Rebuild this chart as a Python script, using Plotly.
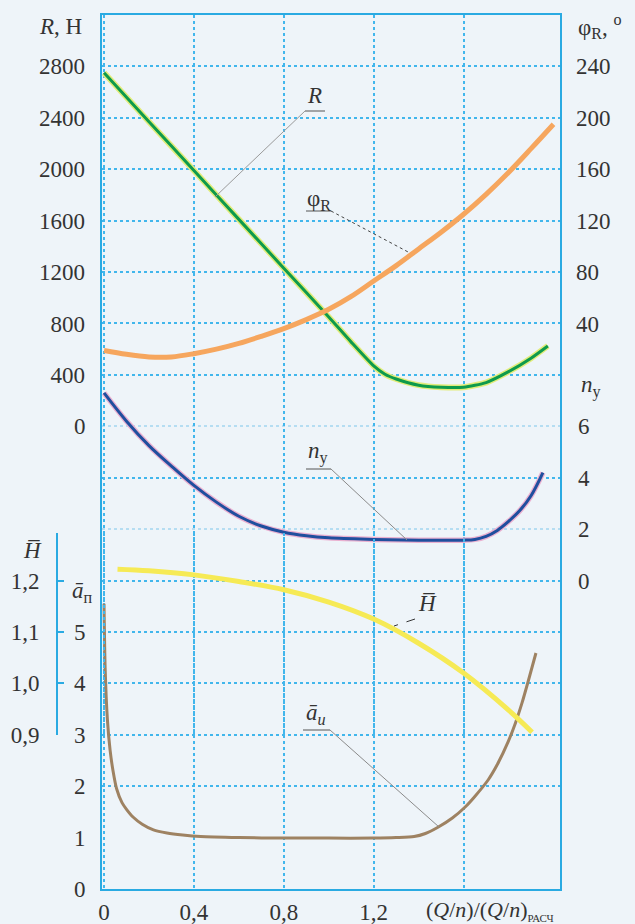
import plotly.graph_objects as go

# ---------------- data ----------------
x_R = [0, 0.2, 0.4, 0.6, 0.8, 1.0, 1.1, 1.2, 1.25, 1.3, 1.4, 1.5, 1.6, 1.7, 1.8, 1.9, 1.975]
R_vals = [2750, 2370, 1990, 1610, 1230, 850, 655, 470, 405, 368, 320, 304, 304, 340, 425, 530, 625]

x_phi = [0, 0.1, 0.2, 0.3, 0.4, 0.5, 0.6, 0.7, 0.8, 0.9, 1.0, 1.1, 1.2, 1.3, 1.4, 1.5, 1.6, 1.7, 1.8, 1.9, 2.0]
phi_vals = [19, 16, 14, 14, 16.5, 20, 24.5, 30, 36, 43, 51, 61, 73, 85, 98, 111, 125, 140.5, 157.5, 176, 195]

x_ny = [0, 0.1, 0.2, 0.3, 0.4, 0.5, 0.6, 0.7, 0.8, 0.9, 1.0, 1.2, 1.4, 1.6, 1.65, 1.7, 1.75, 1.8, 1.85, 1.9, 1.953]
ny_vals = [7.3, 6.2, 5.25, 4.45, 3.7, 3.05, 2.5, 2.12, 1.88, 1.74, 1.66, 1.6, 1.57, 1.57, 1.6, 1.72, 1.95, 2.3, 2.72, 3.3, 4.2]

x_H = [0.06, 0.2, 0.4, 0.6, 0.8, 1.0, 1.2, 1.4, 1.6, 1.8, 1.905]
H_vals = [1.222, 1.219, 1.211, 1.198, 1.182, 1.158, 1.125, 1.078, 1.020, 0.948, 0.905]

x_a = [0, 0.005, 0.015, 0.027, 0.04, 0.056, 0.08, 0.1, 0.129, 0.17, 0.22, 0.28, 0.35, 0.43, 0.6, 0.8,
       1.0, 1.2, 1.3, 1.38, 1.43, 1.486, 1.55, 1.606, 1.65, 1.709, 1.75, 1.798, 1.83, 1.86, 1.89, 1.922]
a_vals = [5.55, 4.3, 3.3, 2.7, 2.3, 1.95, 1.68, 1.55, 1.4, 1.26, 1.15, 1.09, 1.05, 1.02, 1.0, 0.99,
          0.99, 0.99, 1.0, 1.02, 1.08, 1.2, 1.38, 1.59, 1.8, 2.12, 2.42, 2.86, 3.22, 3.62, 4.08, 4.59]

x_tickvals = [0, 0.4, 0.8, 1.2, 1.6]
x_ticktext = ["0", "0,4", "0,8", "1,2", ""]
# R axis: labelled ticks 400..2800; unlabelled ones continue the grid below (shared grid of the panel)
R_tickvals = [-2800, -2400, -2000, -1600, -1200, -400, 400, 800, 1200, 1600, 2000, 2400, 2800]
R_ticktext = ["", "", "", "", "", "", "400", "800", "1200", "1600", "2000", "2400", "2800"]
R_faint_grid = [-800, 0]
phi_ticks = [40, 80, 120, 160, 200, 240]
ny_ticks = [0, 2, 4, 6]
a_tickvals = [0, 1, 2, 3, 4, 5, 9]          # the value 9 on this scale is where R = 0
a_ticktext = ["0", "1", "2", "3", "4", "5", "0"]
H_ticks = [0.9, 1.0, 1.1, 1.2, 1.292]
H_ticktext = ["0,9", "1,0", "1,1", "1,2", ""]

# ---------------- style ----------------
BG = "#EEF4F9"
FRAME = "#2AAAE2"
GRID = "#41B6EC"
GRID_FAINT = "#B5DDF2"
TXT = "#333333"
FONT = "Liberation Serif"
FS = 23

W, Hh = 635, 924
ML, MR, MT, MB = 20, 75, 15, 35
PLOT_W = W - ML - MR
PLOT_H = Hh - MT - MB
FRAME_L = 102
XR = [-0.009, 2.029]
NG = 17  # grid units along y


def dx(px):
    return XR[0] + (px - FRAME_L) / (W - MR - FRAME_L) * (XR[1] - XR[0])


def dg(py):
    return (Hh - MB - py) / (PLOT_H / NG)


def paper_x(px):
    return (px - ML) / PLOT_W


def paper_y(py):
    return (Hh - MB - py) / PLOT_H


fig = go.Figure()

fig.add_trace(go.Scatter(x=x_R, y=R_vals, yaxis="y2", mode="lines",
                         line=dict(color="#E2EC7A", width=6, shape="spline", smoothing=0.6),
                         hoverinfo="skip", showlegend=False))
fig.add_trace(go.Scatter(x=x_R, y=R_vals, yaxis="y2", mode="lines",
                         line=dict(color="#0E9A4C", width=3, shape="spline", smoothing=0.6),
                         showlegend=False))
fig.add_trace(go.Scatter(x=x_phi, y=phi_vals, yaxis="y4", mode="lines",
                         line=dict(color="#F6A65E", width=5, shape="spline"),
                         showlegend=False))
fig.add_trace(go.Scatter(x=x_ny, y=ny_vals, yaxis="y5", mode="lines",
                         line=dict(color="#EAB0D0", width=5.5, shape="spline"),
                         hoverinfo="skip", showlegend=False))
fig.add_trace(go.Scatter(x=x_ny, y=ny_vals, yaxis="y5", mode="lines",
                         line=dict(color="#1F4F9E", width=3, shape="spline"),
                         showlegend=False))
fig.add_trace(go.Scatter(x=x_H, y=H_vals, yaxis="y6", mode="lines",
                         line=dict(color="#F6EA55", width=5, shape="spline"),
                         showlegend=False))
fig.add_trace(go.Scatter(x=x_a, y=a_vals, yaxis="y", mode="lines",
                         line=dict(color="#9E8262", width=3, shape="spline", smoothing=0.7),
                         showlegend=False))

common_y = dict(zeroline=False, ticks="", automargin=False,
                tickfont=dict(family=FONT, size=FS, color=TXT))

fig.update_layout(
    width=W, height=Hh,
    margin=dict(l=ML, r=MR, t=MT, b=MB, autoexpand=False),
    paper_bgcolor=BG, plot_bgcolor="rgba(0,0,0,0)",
    showlegend=False,
    xaxis=dict(domain=[(FRAME_L - ML) / PLOT_W, 1], range=XR, automargin=False,
               tickvals=x_tickvals, ticktext=x_ticktext,
               tickfont=dict(family=FONT, size=FS, color=TXT),
               showgrid=True, gridcolor=GRID, griddash="3px,3px", gridwidth=1.5,
               zeroline=False, showline=True, mirror=True, linecolor=FRAME, linewidth=2,
               ticks="", ticklabelstandoff=1),
    yaxis=dict(range=[0, NG], tickvals=a_tickvals, ticktext=a_ticktext, showline=True,
               mirror=True, showgrid=False, linecolor=FRAME, linewidth=2,
               ticklabelstandoff=10, **common_y),
    yaxis2=dict(range=[-9 * 400, (NG - 9) * 400], overlaying="y", side="left", anchor="x",
                tickvals=R_tickvals, ticktext=R_ticktext, ticklabelstandoff=16,
                showgrid=True, gridcolor=GRID, griddash="3px,3px", gridwidth=1.5,
                minor=dict(tickvals=R_faint_grid, showgrid=True, gridcolor=GRID_FAINT,
                           griddash="3px,3px", gridwidth=1.5, ticks=""),
                **common_y),
    yaxis4=dict(range=[-10 * 40, (NG - 10) * 40], overlaying="y", side="right", anchor="x",
                tickvals=phi_ticks, ticklabelstandoff=15, showgrid=False, **common_y),
    yaxis5=dict(range=[-6 * 2, (NG - 6) * 2], overlaying="y", side="right", anchor="x",
                tickvals=ny_ticks, ticklabelstandoff=17, showgrid=False, **common_y),
    yaxis6=dict(domain=[3 / NG, 6.92 / NG], range=[0.9, 1.292], anchor="free",
                position=(57 - ML) / PLOT_W, side="left", showline=True, linecolor=FRAME,
                linewidth=2, ticks="inside", ticklen=6, tickwidth=2, tickcolor=FRAME,
                tickvals=H_ticks, ticktext=H_ticktext, showgrid=False, zeroline=False,
                automargin=False, ticklabelstandoff=12,
                tickfont=dict(family=FONT, size=FS, color=TXT)),
)

ann = []


def add_text(text, px, py, xanchor="center", size=FS):
    ann.append(dict(text=text, x=paper_x(px), y=paper_y(py), xref="paper", yref="paper",
                    xanchor=xanchor, yanchor="middle", showarrow=False,
                    font=dict(family=FONT, size=size, color=TXT)))


# axis captions
add_text("<i>R</i>, Н", 84, 27, xanchor="right")
add_text("φ<sub>R</sub>, <sup>o</sup>", 576, 27, xanchor="left")
add_text("<i>n</i><sub>у</sub>", 579, 387, xanchor="left")
add_text("<i>H\u0305</i>", 32, 550)
add_text("<i>ā</i><sub>п</sub>", 82, 592)
# x-axis caption
add_text("(<i>Q</i>/<i>n</i>)/(<i>Q</i>/<i>n</i>)<sub><span style='font-size:11px'>РАСЧ</span></sub>",
         424, 910, xanchor="left", size=22)

# curve labels
add_text("<i>R</i>", 314, 95, size=23)
add_text("φ<sub>R</sub>", 319, 200, size=23)
add_text("<i>n</i><sub>у</sub>", 318, 452, size=23)
add_text("<i>H\u0305</i>", 427, 603, size=23)
add_text("<i>ā</i><sub><i>и</i></sub>", 316, 714, size=23)

fig.update_layout(annotations=ann)

shapes = []


def seg(p1, p2, color="#8a8a8a", width=1, dash="solid"):
    shapes.append(dict(type="line", xref="x", yref="y", x0=dx(p1[0]), y0=dg(p1[1]),
                       x1=dx(p2[0]), y1=dg(p2[1]), line=dict(color=color, width=width, dash=dash)))


# underlines + leaders
seg((305, 111), (325, 111), color="#555555")
seg((305, 111), (215, 197), color="#9a9a9a")
seg((306, 211), (331, 211), color="#555555")
seg((331, 211), (410, 253), color="#444444", dash="dot")
seg((306, 469), (331, 469), color="#555555")
seg((331, 469), (407, 540), color="#8a8a8a")
seg((303, 730), (330, 730), color="#555555")
seg((330, 730), (439, 827), color="#8a8a8a")
seg((415, 619), (394, 626), color="#333333", dash="dash")

fig.update_layout(shapes=shapes)

fig.write_html("out.html", config={"displayModeBar": False},
               post_script="document.body.style.margin='0';document.body.style.background='" + BG + "';")
